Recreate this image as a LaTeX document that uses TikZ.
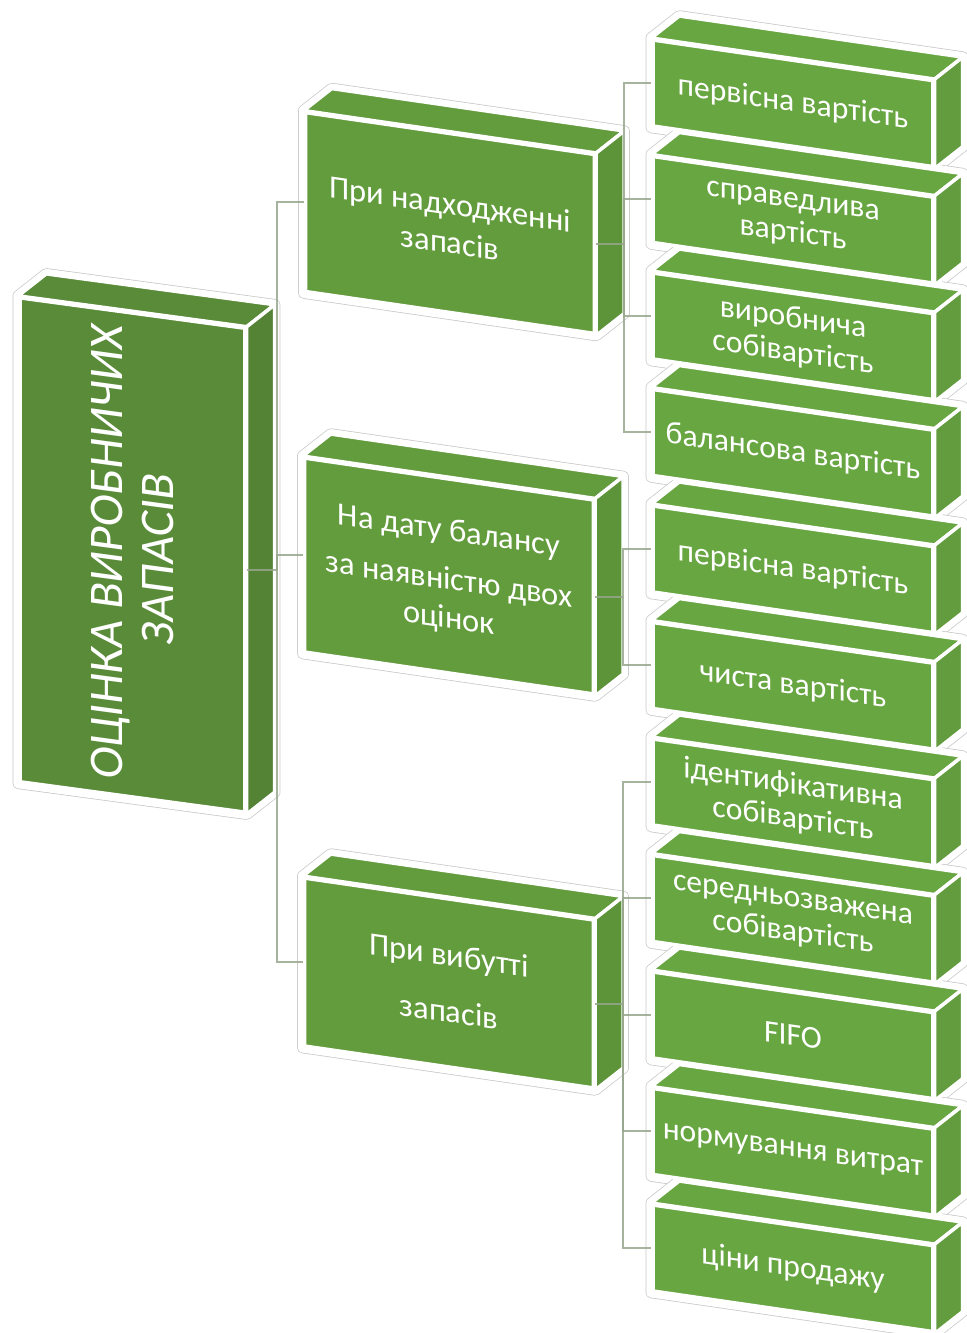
\documentclass[tikz,border=0pt]{standalone}
\usepackage{fontspec}
\setmainfont{Carlito}
\usepackage{xcolor}
\usepackage{tikz}
\usetikzlibrary{calc,backgrounds}

\definecolor{rootgreen}{RGB}{89,139,57}
\definecolor{midgreen}{RGB}{99,156,61}
\definecolor{leafgreen}{RGB}{104,166,66}
\definecolor{linkgray}{RGB}{150,166,140}
\definecolor{halogray}{RGB}{200,200,200}

\begin{document}
\begin{tikzpicture}[x=0.02cm, y=-0.02cm,
    box/.style={draw=white, line width=2pt, text=white, align=center, inner sep=0pt},
    rootbox/.style={box, fill=rootgreen, minimum width=9.68cm, minimum height=4.5cm,
        yslant=-0.135, rotate=90, font=\fontsize{27.5}{29}\selectfont},
    midbox/.style={box, fill=midgreen, minimum width=5.78cm, yslant=-0.145,
        font=\fontsize{18.5}{22}\selectfont},
    leafbox/.style={box, fill=leafgreen, minimum width=5.6cm, minimum height=1.72cm,
        yslant=-0.145, font=\fontsize{18}{19.5}\selectfont},
    face/.style={draw=white, line width=2pt, line join=round},
    halo/.style={draw=halogray, line width=0.23cm, line join=round},
    haloinner/.style={draw=white, line width=0.2cm, line join=round},
    link/.style={draw=linkgray, line width=1.1pt, draw opacity=0.85}]
        \useasboundingbox (0,0) rectangle (967,1333);

        % Root box (text turned upright)
        \node[rootbox] (root) at (132.5,555) {ОЦІНКА ВИРОБНИЧИХ\\ЗАПАСІВ};

        % Second level
        \node[midbox, minimum height=3.58cm] (recv) at (450,223) {При надходженні\\запасів};
        \node[midbox, minimum height=3.88cm] (bal) at (449,576) {На дату балансу\\[6pt]за наявністю двох\\оцінок};
        \node[midbox, minimum height=3.36cm] (disp) at (449,983) {При вибутті\\[10pt]запасів};

        % Third level, one column
        \foreach \i/\t in {1/{первісна вартість}, 2/{справедлива\\вартість}, 3/{виробнича\\собівартість},
                4/{балансова вартість}, 5/{первісна вартість}, 6/{чиста вартість},
                7/{ідентифікативна\\собівартість}, 8/{середньозважена\\собівартість}, 9/{FIFO},
                10/{нормування витрат}, 11/{ціни продажу}}
            \node[leafbox] (leaf\i) at (793,{103.3+116.5*(\i-1)}) {\t};

        % Depth of the root box
        \begin{scope}[on background layer]
            \draw[halo] (root.north west) -- (root.north east) -- ++(28,-22) -- ($(root.south east)+(28,-22)$)
                -- ($(root.south west)+(28,-22)$) -- (root.south west) -- cycle;
            \draw[haloinner] (root.north west) -- (root.north east) -- ++(28,-22) -- ($(root.south east)+(28,-22)$)
                -- ($(root.south west)+(28,-22)$) -- (root.south west) -- cycle;
        \end{scope}
        \path[face, fill=rootgreen] (root.north east) -- ++(28,-22) -- ($(root.south east)+(28,-22)$) -- (root.south east) -- cycle;
        \path[face, fill=rootgreen!94!black] (root.south east) -- ++(28,-22) -- ($(root.south west)+(28,-22)$) -- (root.south west) -- cycle;

        % Depth of the other boxes
        \foreach \n/\c in {recv/midgreen, bal/midgreen, disp/midgreen, leaf1/leafgreen, leaf2/leafgreen,
                leaf3/leafgreen, leaf4/leafgreen, leaf5/leafgreen, leaf6/leafgreen, leaf7/leafgreen,
                leaf8/leafgreen, leaf9/leafgreen, leaf10/leafgreen, leaf11/leafgreen} {
            \begin{scope}[on background layer]
                \draw[halo] (\n.south west) -- (\n.north west) -- ++(28,-22) -- ($(\n.north east)+(28,-22)$)
                    -- ($(\n.south east)+(28,-22)$) -- (\n.south east) -- cycle;
                \draw[haloinner] (\n.south west) -- (\n.north west) -- ++(28,-22) -- ($(\n.north east)+(28,-22)$)
                    -- ($(\n.south east)+(28,-22)$) -- (\n.south east) -- cycle;
            \end{scope}
            \path[face, fill=\c] (\n.north west) -- ++(28,-22) -- ($(\n.north east)+(28,-22)$) -- (\n.north east) -- cycle;
            \path[face, fill=\c!94!black] (\n.north east) -- ++(28,-22) -- ($(\n.south east)+(28,-22)$) -- (\n.south east) -- cycle;
        }

        % Connectors root -> second level
        \draw[link] (root.south) -- ++(30,0) coordinate (rootbus);
        \foreach \m in {recv,bal,disp}
            \draw[link] (rootbus) |- (\m.west);

        % Connectors second level -> third level
        \draw[link] (recv.east) -- ++(28,0) coordinate (recvbus);
        \foreach \j in {1,...,4}
            \draw[link] (recvbus) |- (leaf\j.west);
        \draw[link] (bal.east) -- ++(28,0) coordinate (balbus);
        \foreach \j in {5,6}
            \draw[link] (balbus) |- (leaf\j.west);
        \draw[link] (disp.east) -- ++(28,0) coordinate (dispbus);
        \foreach \j in {7,...,11}
            \draw[link] (dispbus) |- (leaf\j.west);

    \end{tikzpicture}
\end{document}
